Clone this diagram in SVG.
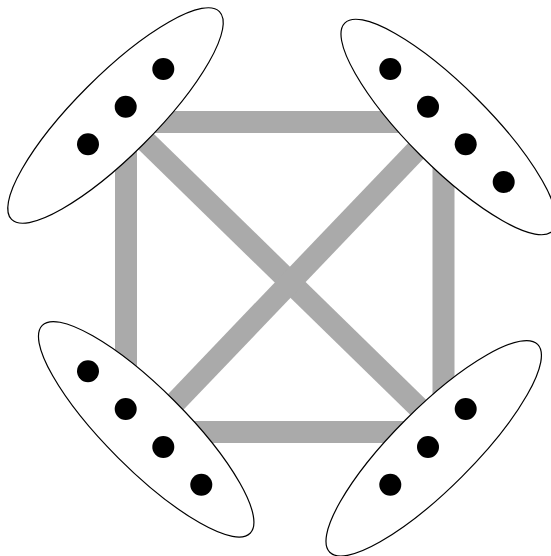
<svg xmlns="http://www.w3.org/2000/svg" width="551" height="556" viewBox="0 0 551 556">
<style>
.edge{stroke:#aaaaaa;stroke-width:22;fill:none;stroke-linecap:butt}
.hull{fill:#ffffff;stroke:#000000;stroke-width:1.2}
.dot{fill:#000000}
</style>
<rect width="551" height="556" fill="#ffffff"/>
<g id="connectors">
<line class="edge" x1="115" y1="122" x2="454" y2="122"/>
<line class="edge" x1="126" y1="111" x2="126" y2="443"/>
<line class="edge" x1="443.5" y1="111" x2="443.5" y2="443"/>
<line class="edge" x1="115" y1="432" x2="454" y2="432"/>
<line class="edge" x1="126" y1="122" x2="443.5" y2="432"/>
<line class="edge" x1="443.5" y1="122" x2="147" y2="432"/>
</g>
<g id="node-tl">
<ellipse class="hull" cx="115.5" cy="115.5" rx="147" ry="40" transform="rotate(-45 115.5 115.5)"/>
<circle class="dot" cx="163.3" cy="69" r="11"/>
<circle class="dot" cx="125.7" cy="106.7" r="11"/>
<circle class="dot" cx="88" cy="144.3" r="11"/>
</g>
<g id="node-tr">
<ellipse class="hull" cx="448.7" cy="127" rx="147" ry="40" transform="rotate(45 448.7 127)"/>
<circle class="dot" cx="390.3" cy="69" r="11"/>
<circle class="dot" cx="428" cy="106.7" r="11"/>
<circle class="dot" cx="465.7" cy="144.3" r="11"/>
<circle class="dot" cx="503.7" cy="182" r="11"/>
</g>
<g id="node-bl">
<ellipse class="hull" cx="146.2" cy="429.3" rx="147" ry="40" transform="rotate(45 146.2 429.3)"/>
<circle class="dot" cx="88" cy="371.3" r="11"/>
<circle class="dot" cx="125.7" cy="409" r="11"/>
<circle class="dot" cx="163.3" cy="447" r="11"/>
<circle class="dot" cx="201.3" cy="484.7" r="11"/>
</g>
<g id="node-br">
<ellipse class="hull" cx="433.7" cy="448.3" rx="147" ry="40" transform="rotate(-45 433.7 448.3)"/>
<circle class="dot" cx="465.7" cy="409" r="11"/>
<circle class="dot" cx="428" cy="447" r="11"/>
<circle class="dot" cx="390.3" cy="484.7" r="11"/>
</g>
</svg>
